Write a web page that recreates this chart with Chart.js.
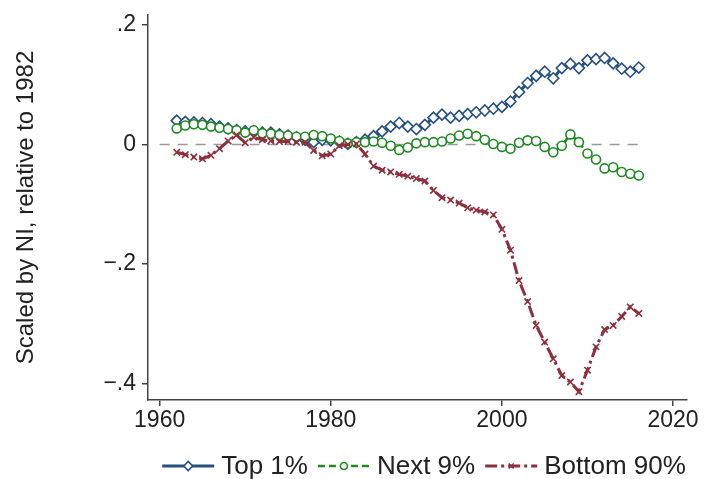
<!DOCTYPE html>
<html>
<head>
<meta charset="utf-8">
<script src="https://cdn.jsdelivr.net/npm/chart.js@4.4.1/dist/chart.umd.min.js"></script>
<style>
html,body{margin:0;padding:0;background:#fff;}
#wrap{width:704px;height:479px;position:relative;}
</style>
</head>
<body>
<div id="wrap"><canvas id="c" width="704" height="479"></canvas></div>
<script>
const years = [1962,1963,1964,1965,1966,1967,1968,1969,1970,1971,1972,1973,1974,1975,1976,1977,1978,1979,1980,1981,1982,1983,1984,1985,1986,1987,1988,1989,1990,1991,1992,1993,1994,1995,1996,1997,1998,1999,2000,2001,2002,2003,2004,2005,2006,2007,2008,2009,2010,2011,2012,2013,2014,2015,2016];
const top1 = [0.040,0.038,0.037,0.036,0.034,0.030,0.027,0.024,0.022,0.022,0.020,0.020,0.017,0.015,0.012,0.008,0.004,0.008,0.007,0.005,0.001,0.004,0.008,0.014,0.022,0.030,0.036,0.030,0.026,0.033,0.045,0.050,0.045,0.048,0.051,0.054,0.057,0.060,0.063,0.072,0.088,0.103,0.115,0.122,0.111,0.128,0.135,0.128,0.141,0.143,0.145,0.136,0.127,0.122,0.129];
const next9 = [0.027,0.032,0.034,0.033,0.030,0.028,0.026,0.024,0.020,0.024,0.019,0.018,0.016,0.015,0.013,0.013,0.016,0.014,0.010,0.006,0.002,0.004,0.004,0.005,0.003,-0.002,-0.009,-0.005,0.002,0.004,0.004,0.005,0.010,0.015,0.018,0.014,0.008,0.001,-0.004,-0.007,0.003,0.007,0.006,-0.004,-0.013,-0.002,0.017,0.004,-0.015,-0.025,-0.040,-0.038,-0.046,-0.049,-0.052];
const bottom90 = [-0.013,-0.017,-0.021,-0.024,-0.018,-0.007,0.006,0.016,0.003,0.012,0.008,0.006,0.005,0.005,0.004,0.004,-0.010,-0.019,-0.016,-0.002,0.000,0.001,-0.016,-0.036,-0.043,-0.046,-0.050,-0.053,-0.057,-0.061,-0.077,-0.089,-0.093,-0.098,-0.106,-0.110,-0.113,-0.118,-0.142,-0.177,-0.228,-0.263,-0.303,-0.331,-0.359,-0.387,-0.398,-0.414,-0.378,-0.339,-0.310,-0.303,-0.288,-0.272,-0.283];
const zeroLineYears = [1960, 2016];
const xTicks = [1960,1980,2000,2020];
const yTicks = [-0.4,-0.2,0,0.2];
const seriesNames = ['Top 1%','Next 9%','Bottom 90%'];
const yTitle = 'Scaled by NI, relative to 1982';

const BLUE = '#26517f', GREEN = '#1f8a22', RED = '#8e2f3d';
const FONT = '"Liberation Sans", Arial, sans-serif';
const pts = arr => years.map((y,i)=>({x:y,y:arr[i]}));

const legendPlugin = {
  id:'stataLegend',
  afterDraw(chart){
    const ctx = chart.ctx;
    ctx.save();
    ctx.font = '26px ' + FONT;
    const sampleW = 52, gapA = 7, gapB = 10;
    const items = [0,1,2].map(i=>chart.data.datasets[i]);
    let total = 0;
    items.forEach((ds,i)=>{ total += sampleW + gapA + ctx.measureText(ds.label).width + (i<2?gapB:0); });
    let x = 424 - total/2;
    const yc = 466;
    items.forEach((ds,i)=>{
      ctx.save();
      ctx.strokeStyle = ds.borderColor;
      ctx.lineWidth = ds.borderWidth;
      ctx.setLineDash(ds.borderDash || []);
      ctx.beginPath(); ctx.moveTo(x, yc); ctx.lineTo(x+sampleW, yc); ctx.stroke();
      ctx.setLineDash([]);
      ctx.strokeStyle = ds.borderColor; ctx.fillStyle = ds.pointBackgroundColor; ctx.lineWidth = ds.pointBorderWidth;
      Chart.helpers.drawPoint(ctx, {pointStyle: ds.pointStyle, radius: ds.pointRadius - 1, borderWidth: ds.pointBorderWidth}, x+sampleW/2, yc);
      ctx.restore();
      x += sampleW + gapA;
      ctx.fillStyle = '#222';
      ctx.textBaseline = 'middle';
      ctx.textAlign = 'left';
      ctx.fillText(ds.label, x, yc+1);
      x += ctx.measureText(ds.label).width + gapB;
    });
    ctx.restore();
  }
};

new Chart(document.getElementById('c'), {
  type:'line',
  data:{
    datasets:[
      {label:seriesNames[0], data:pts(top1), borderColor:BLUE, borderWidth:3, pointStyle:'rectRot', pointRadius:5.5, pointBorderWidth:1.6, pointBorderColor:BLUE, pointBackgroundColor:'#fff', order:3, tension:0},
      {label:seriesNames[1], data:pts(next9), borderColor:GREEN, borderWidth:2.5, borderDash:[7,4], pointStyle:'circle', pointRadius:4.5, pointBorderWidth:1.6, pointBorderColor:GREEN, pointBackgroundColor:'#fff', order:2, tension:0},
      {label:seriesNames[2], data:pts(bottom90), borderColor:RED, borderWidth:3, borderDash:[12,4,3,4], pointStyle:'crossRot', pointRadius:4.5, pointBorderWidth:1.6, pointBorderColor:RED, pointBackgroundColor:'#fff', order:1, tension:0},
      {label:'zero', data:zeroLineYears.map(y=>({x:y,y:0})), borderColor:'#9a9a9a', borderWidth:1.5, borderDash:[10,8], pointRadius:0, order:4}
    ]
  },
  options:{
    responsive:false, animation:false, devicePixelRatio:1,
    layout:{padding:{left:0,right:17,top:15,bottom:0}},
    plugins:{legend:{display:false}, tooltip:{enabled:false}},
    scales:{
      x:{
        type:'linear', min:1958.64, max:2021.63,
        afterBuildTicks(s){ s.ticks = xTicks.map(v=>({value:v})); },
        afterFit(s){ s.height = 79; s.paddingLeft = 0; s.paddingRight = 0; },
        ticks:{callback:v=>String(v), color:'#222', font:{family:FONT, size:23}, padding:1, maxRotation:0, autoSkip:false},
        grid:{display:true, drawOnChartArea:false, drawTicks:true, tickLength:6, color:'#444', lineWidth:1.5},
        border:{display:true, color:'#444', width:1.5}
      },
      y:{
        type:'linear', min:-0.428, max:0.217,
        afterBuildTicks(s){ s.ticks = yTicks.map(v=>({value:v})); },
        afterFit(s){ s.width = 148; s.paddingTop = 0; s.paddingBottom = 0; },
        ticks:{callback:v=>{ if (Math.abs(v)<1e-9) return '0'; const a=Math.abs(v).toString().replace(/^0/,''); return (v<0?'\u2212':'')+a; }, color:'#222', font:{family:FONT, size:23}, padding:6, autoSkip:false},
        grid:{display:true, drawOnChartArea:false, drawTicks:true, tickLength:6, color:'#444', lineWidth:1.5},
        border:{display:true, color:'#444', width:1.5},
        title:{display:true, text:yTitle, color:'#222', font:{family:FONT, size:24, lineHeight:1.2}, padding:{top:12,bottom:0}}
      }
    }
  },
  plugins:[legendPlugin]
});
</script>
</body>
</html>
